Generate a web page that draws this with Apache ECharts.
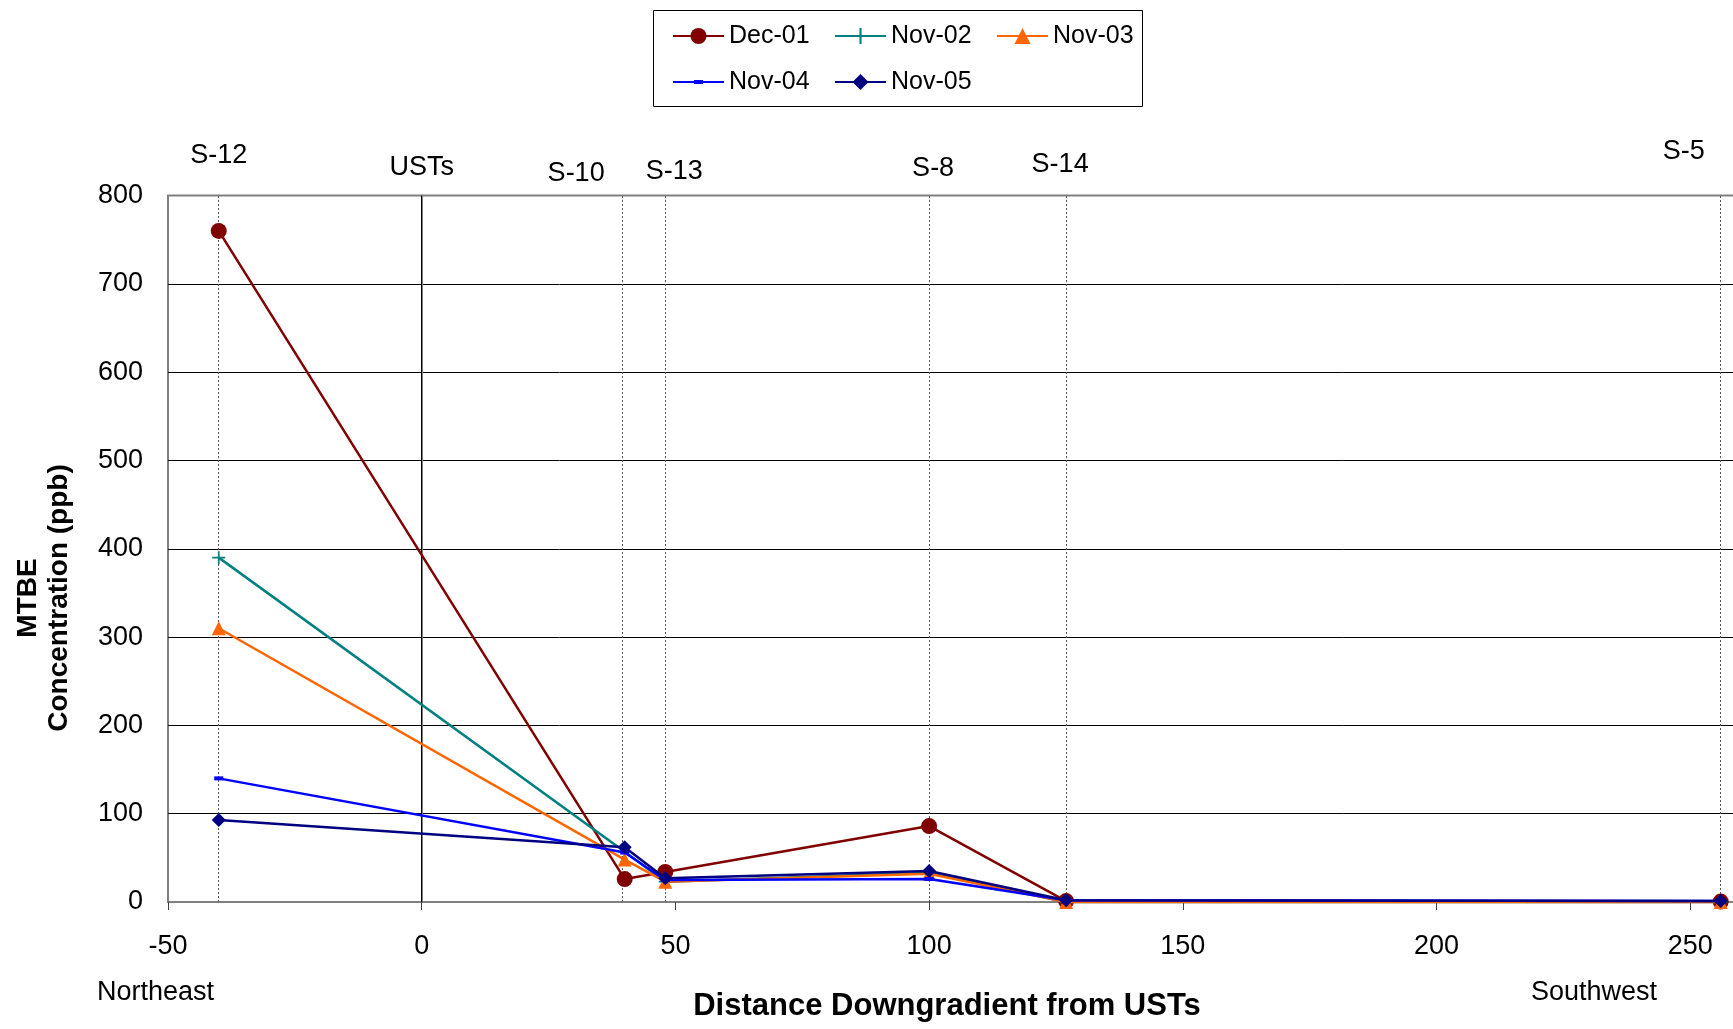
<!DOCTYPE html>
<html>
<head>
<meta charset="utf-8">
<title>MTBE Concentration vs Distance Downgradient from USTs</title>
<script src="https://cdn.jsdelivr.net/npm/echarts@6/dist/echarts.min.js"></script>
<style>
  html, body { margin: 0; padding: 0; background: #fff; }
  #chart { width: 1733px; height: 1029px; }
</style>
</head>
<body>
<div id="chart"></div>
<script>
// Sampling distances (ft downgradient of the USTs) for each well
const wellDistance = [-40, 40, 48, 100, 127, 256];

// MTBE concentrations (ppb) per sampling event, in well order
const dec01 = [760, 26, 34, 86, 1, 0.5];
const nov02 = [390, 57, 23, 33, 0, 0];
const nov03 = [310, 48, 23, 32, 0, 0];
const nov04 = [140, 56, 25, 26, 2, 1];
const nov05 = [93, 62, 27, 35, 2, 1];

const eventNames = ['Dec-01', 'Nov-02', 'Nov-03', 'Nov-04', 'Nov-05'];

// Reference locations marked along the top of the plot
const stationNames = ['S-12', 'USTs', 'S-10', 'S-13', 'S-8', 'S-14', 'S-5'];
const stationDistance = [-40, 0, 39.5, 48, 100, 127, 256];

// Axis ticks
const yTicks = [0, 100, 200, 300, 400, 500, 600, 700, 800];
const xTicks = [-50, 0, 50, 100, 150, 200, 250];

// Label nudges for the station names (pixels, relative to the plot top)
const stationLabelShift = [[0, -40], [0, -28], [-46, -22], [9, -24], [4, -27], [-6, -31], [-37, -44]];

const FONT = "'Liberation Sans', Arial, sans-serif";

const pairs = arr => wellDistance.map((d, i) => [d, arr[i]]);

const plusPath = 'path://M5.2,0 L6.8,0 L6.8,5.2 L12,5.2 L12,6.8 L6.8,6.8 L6.8,12 L5.2,12 L5.2,6.8 L0,6.8 L0,5.2 L5.2,5.2 Z';
// short dash marker inside a square frame so it keeps its proportions at any size
const dashPath = 'path://M0,0 M3.5,6 L12.5,6 L12.5,10 L3.5,10 Z M16,16';

const seriesStyle = [
  { color: '#800000', symbol: 'circle', symbolSize: 16 },
  { color: '#008080', symbol: plusPath, symbolSize: 13 },
  { color: '#FF6600', symbol: 'triangle', symbolSize: 14 },
  { color: '#0000FF', symbol: dashPath, symbolSize: 16 },
  { color: '#000080', symbol: 'diamond', symbolSize: 14 }
];

const values = [dec01, nov02, nov03, nov04, nov05];

const lineSeries = values.map((arr, i) => ({
  name: eventNames[i],
  type: 'line',
  data: pairs(arr),
  symbol: seriesStyle[i].symbol,
  symbolSize: seriesStyle[i].symbolSize,
  symbolKeepAspect: true,
  showAllSymbol: true,
  clip: false,
  lineStyle: { color: seriesStyle[i].color, width: 2.5 },
  itemStyle: { color: seriesStyle[i].color, borderWidth: 0 },
  emphasis: { disabled: true },
  z: 10 + i
}));

// Station guide lines and their labels
const stationSeries = {
  name: 'stations',
  type: 'scatter',
  silent: true,
  symbolSize: 0,
  clip: false,
  z: 3,
  itemStyle: { opacity: 1, color: '#000' },
  data: stationNames.map((n, i) => ({
    name: n,
    value: [stationDistance[i], yTicks[yTicks.length - 1]],
    label: {
      show: true,
      position: 'inside',
      offset: stationLabelShift[i],
      formatter: n,
      fontFamily: FONT,
      fontSize: 27,
      color: '#000',
      opacity: 1,
      textBorderWidth: 0,
      textBorderColor: 'transparent'
    }
  })),
  markLine: {
    silent: true,
    symbol: ['none', 'none'],
    label: { show: false },
    animation: false,
    data: stationNames.map((n, i) => ({
      xAxis: stationDistance[i],
      lineStyle: n === 'USTs'
        ? { type: 'solid', color: '#000', width: 1, opacity: 1 }
        : { type: [2, 2], color: '#555', width: 1, opacity: 1 }
    }))
  }
};

const chart = echarts.init(document.getElementById('chart'), null, { renderer: 'canvas' });

chart.setOption({
  backgroundColor: '#fff',
  animation: false,
  textStyle: { fontFamily: FONT },
  grid: {
    left: 168,
    top: 195.6,
    width: 1573,
    bottom: 127,
    outerBoundsMode: 'none',
    containLabel: false,
    show: true,
    borderColor: '#808080',
    borderWidth: 2,
    backgroundColor: 'transparent'
  },
  legend: {
    left: 672,
    top: 23,
    width: 470,
    padding: 0,
    itemWidth: 51,
    itemHeight: 20,
    itemGap: 20,
    selectedMode: false,
    data: eventNames,
    textStyle: {
      fontFamily: FONT,
      fontSize: 25,
      color: '#000',
      width: 85,
      lineHeight: 26
    }
  },
  xAxis: {
    type: 'value',
    min: xTicks[0],
    max: 260,
    interval: 50,
    axisLine: { show: true, onZero: false, lineStyle: { color: '#808080', width: 2 } },
    axisTick: { show: true, length: 8, lineStyle: { color: '#404040', width: 1 } },
    axisLabel: {
      fontFamily: FONT,
      fontSize: 27,
      color: '#000',
      margin: 31,
      showMaxLabel: false,
      formatter: v => (xTicks.indexOf(v) >= 0 ? String(v) : '')
    },
    splitLine: { show: false }
  },
  yAxis: {
    type: 'value',
    min: yTicks[0],
    max: yTicks[yTicks.length - 1],
    interval: 100,
    axisLine: { show: true, lineStyle: { color: '#808080', width: 2 } },
    axisTick: { show: false },
    axisLabel: { fontFamily: FONT, fontSize: 27, color: '#000', margin: 25 },
    splitLine: {
      show: true,
      showMinLine: false,
      showMaxLine: false,
      lineStyle: { color: '#000', width: 1 }
    }
  },
  graphic: [
    {
      type: 'rect',
      left: 653,
      top: 10,
      z: -1,
      shape: { width: 489, height: 96 },
      style: { fill: '#fff', stroke: '#000', lineWidth: 1 }
    },
    {
      type: 'text',
      x: 28,
      y: 598,
      rotation: Math.PI / 2,
      style: {
        text: 'MTBE',
        font: 'bold 28px ' + FONT,
        fill: '#000',
        align: 'center',
        verticalAlign: 'middle'
      }
    },
    {
      type: 'text',
      x: 59,
      y: 598,
      rotation: Math.PI / 2,
      style: {
        text: 'Concentration (ppb)',
        font: 'bold 28px ' + FONT,
        fill: '#000',
        align: 'center',
        verticalAlign: 'middle'
      }
    },
    {
      type: 'text',
      x: 947,
      y: 1006,
      style: {
        text: 'Distance Downgradient from USTs',
        font: 'bold 31px ' + FONT,
        fill: '#000',
        align: 'center',
        verticalAlign: 'middle'
      }
    },
    {
      type: 'text',
      x: 97,
      y: 993,
      style: {
        text: 'Northeast',
        font: '27px ' + FONT,
        fill: '#000',
        align: 'left',
        verticalAlign: 'middle'
      }
    },
    {
      type: 'text',
      x: 1531,
      y: 993,
      style: {
        text: 'Southwest',
        font: '27px ' + FONT,
        fill: '#000',
        align: 'left',
        verticalAlign: 'middle'
      }
    }
  ],
  series: [stationSeries].concat(lineSeries)
});
</script>
</body>
</html>
